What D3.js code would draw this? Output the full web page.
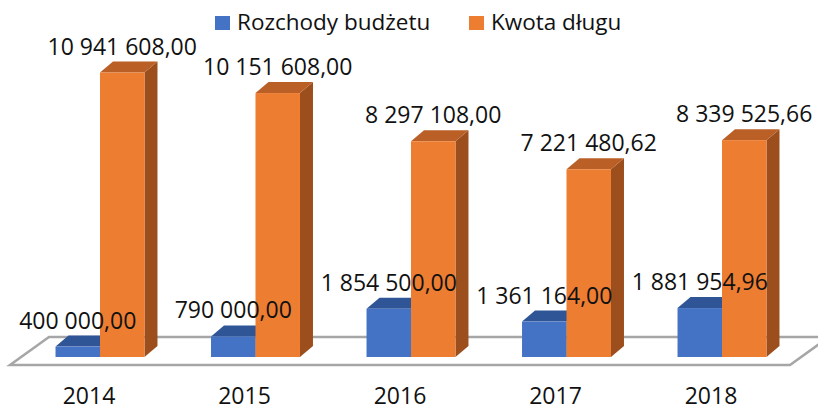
<!DOCTYPE html>
<head>
<meta charset="utf-8">
<style>
body { margin: 0; background: #fff; }
svg { display: block; }
.lbl { font: 23px "Open Sans", sans-serif; fill: #111; text-anchor: middle; }
.leg { font: 22.5px "Open Sans", sans-serif; fill: #111; }
</style>
</head>
<body>
<svg width="818" height="410"></svg>
<script src="https://cdn.jsdelivr.net/npm/d3@7"></script>
<script>

var years = ["2014", "2015", "2016", "2017", "2018"];
var series = ["Rozchody budżetu", "Kwota długu"];
var rozchody = [400000.00, 790000.00, 1854500.00, 1361164.00, 1881954.96];
var dlug = [10941608.00, 10151608.00, 8297108.00, 7221480.62, 8339525.66];
var labels = [
  ["400 000,00", "790 000,00", "1 854 500,00", "1 361 164,00", "1 881 954,96"],
  ["10 941 608,00", "10 151 608,00", "8 297 108,00", "7 221 480,62", "8 339 525,66"]
];

var colors = [
  { front: "#4472C4", top: "#2F5597", side: "#2B4F8C" },
  { front: "#ED7D31", top: "#BA6027", side: "#9C4E1C" }
];

var svg = d3.select("svg");

// 3d offsets
var dx = 13, dy = -11;          // bar depth
var fdx = 39, fdy = -28;        // floor depth
var base = 357;                 // bar bottom (front)

var x = d3.scaleBand()
    .domain(years)
    .range([21, 801])
    .paddingInner(0.428)
    .paddingOuter(0.222);

var xs = d3.scaleBand()
    .domain(series)
    .range([0, x.bandwidth()]);

var y = d3.scaleLinear()
    .domain([0, 12000000])
    .range([base, 45]);

// floor
var fl = 10, fr = 790, fy = 365;
svg.append("path")
    .attr("d", "M" + fl + "," + fy + "L" + fr + "," + fy + "L" + (fr + fdx) + "," + (fy + fdy) +
         "L" + (fl + fdx) + "," + (fy + fdy) + "Z")
    .attr("fill", "#fff")
    .attr("stroke", "#A6A6A6")
    .attr("stroke-width", 2.5);

// bars
var vals = [rozchody, dlug];
years.forEach(function(yr, i) {
  series.forEach(function(s, k) {
    var x0 = x(yr) + xs(s), w = xs.bandwidth(), t = y(vals[k][i]);
    var g = svg.append("g");
    g.append("path")
      .attr("d", "M" + (x0 + w) + "," + t + "L" + (x0 + w + dx) + "," + (t + dy) +
           "L" + (x0 + w + dx) + "," + (base + dy) + "L" + (x0 + w) + "," + base + "Z")
      .attr("fill", colors[k].side);
    g.append("path")
      .attr("d", "M" + x0 + "," + t + "L" + (x0 + dx) + "," + (t + dy) +
           "L" + (x0 + w + dx) + "," + (t + dy) + "L" + (x0 + w) + "," + t + "Z")
      .attr("fill", colors[k].top);
    g.append("rect")
      .attr("x", x0).attr("y", t)
      .attr("width", w).attr("height", base - t)
      .attr("fill", colors[k].front);
  });
});

// data labels
years.forEach(function(yr, i) {
  series.forEach(function(s, k) {
    svg.append("text")
      .attr("class", "lbl")
      .attr("x", x(yr) + xs(s) + xs.bandwidth() / 2)
      .attr("y", y(vals[k][i]) - 18)
      .text(labels[k][i]);
  });
});

// category labels
svg.selectAll(".yr")
  .data(years)
  .enter().append("text")
    .attr("class", "lbl")
    .attr("x", function(d) { return x(d) + x.bandwidth() / 2 - 11; })
    .attr("y", 404)
    .text(function(d) { return d; });

// legend
var legX = [215, 469];
series.forEach(function(s, k) {
  svg.append("rect")
    .attr("x", legX[k]).attr("y", 16)
    .attr("width", 15).attr("height", 14)
    .attr("fill", colors[k].front);
  svg.append("text")
    .attr("class", "leg")
    .attr("x", legX[k] + 22).attr("y", 30)
    .text(s);
});

</script>
</body>
